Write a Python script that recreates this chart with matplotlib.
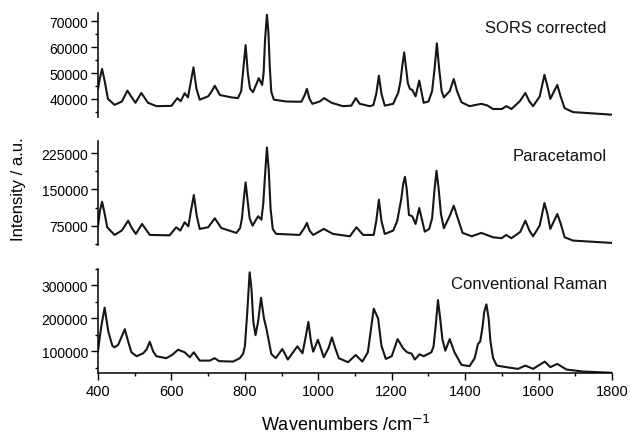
import numpy as np
import matplotlib
matplotlib.use("Agg")
import matplotlib.pyplot as plt
from matplotlib.ticker import MultipleLocator

plt.rcParams['font.family'] = ['Liberation Sans', 'DejaVu Sans']

# Espectro SORS corregido (numero de onda, intensidad)
wn_sors = [400, 405, 411, 418, 427, 445, 465, 480, 490, 502, 518, 536, 559, 600,
           616, 625, 636, 645, 652, 660, 668, 677, 700, 710, 718, 732, 763, 781,
           790, 796, 802, 808, 814, 822, 838, 847, 851, 855, 860, 864, 868, 872,
           879, 913, 954, 963, 969, 976, 984, 1004, 1016, 1036, 1067, 1090, 1102,
           1113, 1140, 1150, 1158, 1165, 1172, 1181, 1204, 1218, 1224, 1229, 1234,
           1239, 1244, 1250, 1256, 1265, 1275, 1287, 1300, 1310, 1317, 1323, 1329,
           1336, 1342, 1358, 1369, 1378, 1390, 1412, 1444, 1460, 1476, 1500, 1512,
           1526, 1549, 1564, 1575, 1585, 1603, 1616, 1624, 1632, 1651, 1660, 1671,
           1694, 1800]
int_sors = [43900, 48000, 51600, 47000, 40000, 37700, 39000, 43200, 41000, 38500,
            42300, 38500, 37200, 37300, 40300, 39100, 42200, 40600, 46000, 52200,
            44000, 39700, 41000, 43000, 45100, 41500, 40600, 40300, 43000, 52000,
            60800, 50000, 44000, 42600, 48000, 45400, 50000, 63000, 72500, 66000,
            52000, 42700, 39700, 39000, 38900, 41500, 43900, 40000, 38100, 39000,
            40300, 38500, 37200, 37400, 40300, 38100, 37200, 37600, 42000, 49000,
            42000, 37400, 38100, 42500, 47000, 53000, 58000, 52000, 46000, 43800,
            43500, 41000, 47100, 38500, 39000, 43000, 52000, 61500, 52000, 43000,
            40600, 43000, 47700, 43000, 38700, 37200, 38100, 37500, 36100, 36100,
            37200, 36100, 39100, 42300, 39000, 37200, 40900, 49300, 45000, 40000,
            45400, 41000, 36400, 34900, 33900]

# Espectro de referencia del paracetamol
wn_para = [400, 405, 411, 418, 425, 445, 465, 482, 492, 503, 520, 541, 595, 613,
           624, 636, 646, 653, 661, 669, 677, 700, 718, 736, 777, 787, 792, 797,
           802, 807, 813, 821, 836, 845, 850, 855, 860, 865, 870, 876, 885, 949,
           962, 969, 976, 986, 1015, 1040, 1086, 1104, 1122, 1151, 1158, 1165,
           1172, 1181, 1204, 1215, 1226, 1231, 1236, 1241, 1247, 1256, 1265, 1275,
           1290, 1302, 1310, 1316, 1322, 1328, 1334, 1342, 1358, 1369, 1380, 1393,
           1418, 1444, 1476, 1499, 1512, 1526, 1550, 1564, 1575, 1585, 1603, 1616,
           1624, 1632, 1651, 1660, 1671, 1694, 1800]
int_para = [75000, 105000, 124500, 100000, 71700, 55800, 65000, 85300, 70000,
            57900, 78500, 55800, 55000, 71700, 64700, 82000, 73400, 105000, 138300,
            95000, 68200, 71700, 90200, 70000, 60000, 70000, 90000, 130000, 164500,
            130000, 90000, 75000, 94400, 87400, 120000, 180000, 236700, 190000,
            110000, 68000, 58000, 55800, 70000, 80600, 65000, 55800, 68200, 57900,
            53000, 71700, 55800, 55800, 85000, 128700, 85000, 57900, 64700, 85000,
            130000, 160000, 176100, 150000, 97100, 94400, 78500, 111500, 62600,
            68000, 90000, 145000, 188500, 150000, 100000, 69600, 95000, 116300,
            90000, 60000, 53000, 60000, 51000, 49000, 55800, 49000, 62000, 85300,
            65000, 53000, 75000, 121800, 100000, 68200, 99100, 80000, 51000, 44100,
            39300]

# Espectro Raman convencional
wn_conv = [400, 408, 418, 428, 439, 445, 455, 473, 482, 491, 505, 523, 532, 541,
           550, 559, 586, 603, 618, 636, 650, 661, 677, 704, 718, 730, 768, 786,
           795, 800, 806, 813, 818, 823, 829, 836, 844, 852, 859, 872, 884, 902,
           917, 943, 957, 965, 973, 980, 986, 999, 1015, 1028, 1037, 1046, 1056,
           1081, 1102, 1120, 1135, 1145, 1151, 1163, 1172, 1184, 1200, 1216, 1231,
           1242, 1254, 1263, 1276, 1287, 1308, 1314, 1320, 1326, 1332, 1338, 1346,
           1358, 1371, 1390, 1412, 1426, 1435, 1441, 1447, 1452, 1458, 1464, 1469,
           1476, 1486, 1512, 1544, 1564, 1585, 1617, 1632, 1651, 1676, 1721, 1800]
int_conv = [101800, 170000, 232700, 160000, 116900, 112000, 120000, 167200, 130000,
            97000, 85000, 94000, 105000, 129000, 100000, 85000, 79000, 90000, 104800,
            97000, 82000, 97000, 71700, 71700, 79000, 70000, 68700, 79000, 92000,
            115000, 210000, 340000, 290000, 190000, 149000, 190000, 262800, 200000,
            167200, 92000, 79000, 107000, 75000, 115000, 94000, 140000, 189200,
            130000, 98800, 135000, 82000, 110000, 142200, 110000, 79000, 66800,
            88800, 68700, 97000, 180000, 229600, 199500, 116900, 76800, 85000,
            137100, 109000, 97000, 93000, 75000, 91000, 85000, 97000, 115000,
            180000, 255600, 200000, 137100, 101800, 137100, 97000, 58700, 54800,
            79000, 122000, 130000, 170000, 220000, 242600, 200000, 130000, 80000,
            56600, 51800, 46600, 56600, 46600, 68700, 51800, 61700, 44600, 38500,
            34600]

spectra = [
    (wn_sors, int_sors, "SORS corrected", (33000, 73200), 10000, 5000),
    (wn_para, int_para, "Paracetamol", (35000, 250000), 75000, 37500),
    (wn_conv, int_conv, "Conventional Raman", (34000, 350000), 100000, 50000),
]

fig = plt.figure(figsize=(6.3, 4.35), dpi=100)
bottoms = [0.7287, 0.4345, 0.1402]
axes = []
for i, (wn, inten, label, ylim, major, minor) in enumerate(spectra):
    ax = fig.add_axes([0.1556, bottoms[i], 0.8158, 0.239])
    ax.plot(wn, inten, color='#161616', lw=1.5, solid_joinstyle='round')
    ax.set_xlim(400, 1800)
    ax.set_ylim(*ylim)
    ax.yaxis.set_major_locator(MultipleLocator(major))
    ax.yaxis.set_minor_locator(MultipleLocator(minor))
    ax.spines['top'].set_visible(False)
    ax.spines['right'].set_visible(False)
    ax.spines['left'].set_linewidth(1.1)
    ax.tick_params(axis='y', which='major', length=5, width=1.0, labelsize=10, pad=2)
    ax.tick_params(axis='y', which='minor', length=2.5, width=1.0)
    ax.text(0.99, 0.86, label, transform=ax.transAxes, ha='right', va='center',
            fontsize=12, color='#111111')
    if i < 2:
        ax.spines['bottom'].set_visible(False)
        ax.tick_params(axis='x', which='both', bottom=False, labelbottom=False)
    else:
        ax.spines['bottom'].set_linewidth(1.1)
        ax.xaxis.set_major_locator(MultipleLocator(200))
        ax.xaxis.set_minor_locator(MultipleLocator(100))
        ax.tick_params(axis='x', which='major', length=5, width=1.0, labelsize=10.5, pad=3)
        ax.tick_params(axis='x', which='minor', length=2.5, width=1.0)
    axes.append(ax)

fig.text(0.549, 0.023, "Wavenumbers /cm$^{-1}$", ha='center', va='center', fontsize=13)
fig.text(0.03, 0.565, "Intensity / a.u.", ha='center', va='center', rotation=90, fontsize=12)

fig.savefig("out.png", dpi=100)
